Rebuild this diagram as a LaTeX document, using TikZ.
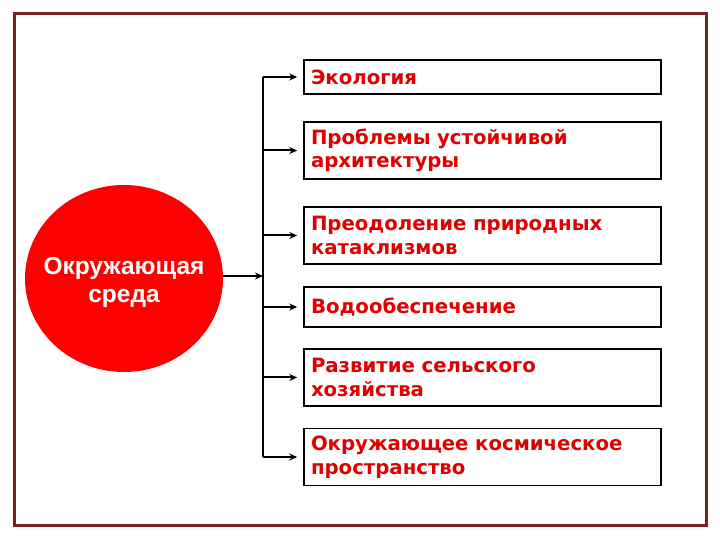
\documentclass[tikz,border=0pt]{standalone}
\usepackage{fontspec}
\setmainfont{Liberation Sans}
\newfontfamily\boxfont{DejaVu Sans}
\usetikzlibrary{arrows.meta,shapes.geometric}
\definecolor{framered}{HTML}{7A2222}
\definecolor{txtred}{HTML}{E00000}
\tikzset{
  itembox/.style={draw=black, line width=1.5pt, minimum width=357pt, text width=343pt,
    inner sep=7pt, align=left, font=\boxfont\bfseries\fontsize{19.7}{23.5}\selectfont, text=txtred},
  arr/.style={line width=2pt, -{Stealth[length=8pt,width=7pt]}},
  spineline/.style={line width=2pt},
}
\begin{document}
\begin{tikzpicture}[x=1pt,y=1pt]
\useasboundingbox (0,0) rectangle (720,540);
\draw[framered, line width=3pt] (14,14) rectangle (706,526);
\node[ellipse, fill=red, minimum width=198pt, minimum height=187pt, inner sep=0pt] (env) at (124,261.5) {};
\node[text=white, align=center, font=\bfseries\fontsize{24.5}{28}\selectfont] (envtxt) at ([yshift=-4pt]env.center) {Окружающая\\среда};
\node[itembox, minimum height=34pt] (b1) at (482.5,463) {Экология};
\node[itembox, minimum height=57pt] (b2) at (482.5,389.5) {Проблемы устойчивой\\архитектуры};
\node[itembox, minimum height=57pt] (b3) at (482.5,304.5) {Преодоление природных\\катаклизмов};
\node[itembox, minimum height=40pt] (b4) at (482.5,233) {Водообеспечение};
\node[itembox, minimum height=57pt] (b5) at (482.5,162.5) {Развитие сельского\\хозяйства};
\node[itembox, minimum height=57pt] (b6) at (482.5,83) {Окружающее космическое\\пространство};
\coordinate (top) at (263,463);
\coordinate (bot) at (263,83);
\coordinate (mid) at (263,264);
\draw[spineline] (top) -- (bot);
\draw[arr] (env.east |- mid) -- (mid);
\foreach \b in {b1,b2,b3,b4,b5,b6}
  \draw[arr, shorten >=6pt] (top |- \b.west) -- (\b.west);
\end{tikzpicture}
\end{document}
